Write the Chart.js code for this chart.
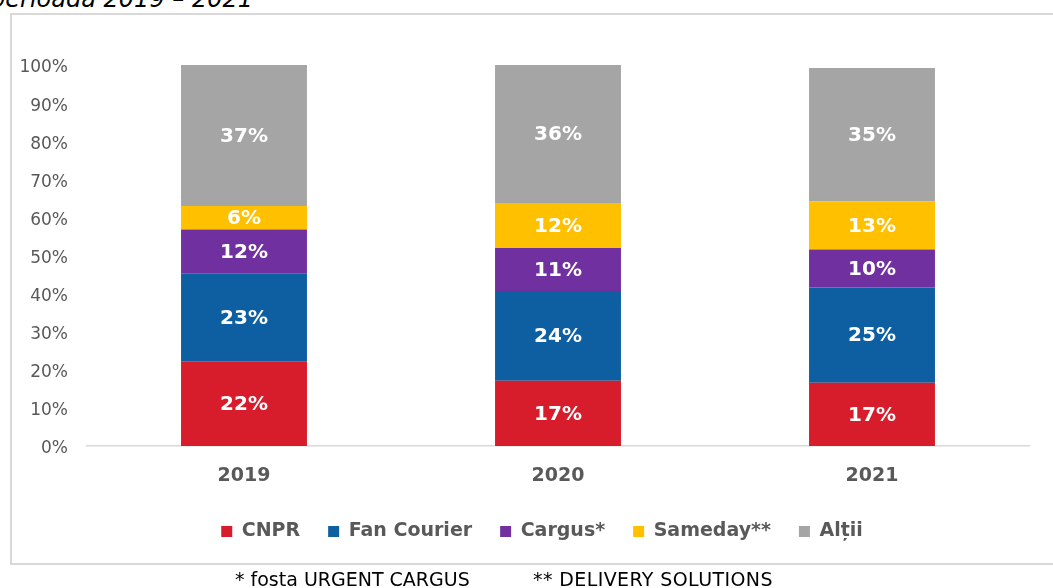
<!DOCTYPE html>
<html><head><meta charset="utf-8">
<script src="https://cdn.jsdelivr.net/npm/chart.js@4/dist/chart.umd.min.js"></script>
<style>
html,body{margin:0;padding:0;background:#fff;width:1053px;height:588px;overflow:hidden;position:relative;}
#frame{position:absolute;left:10px;top:13px;width:1060px;height:552px;border:2px solid #d9d9d9;box-sizing:border-box;}
#title{position:absolute;right:800px;top:-13px;font:italic 24px/24px "DejaVu Sans";white-space:nowrap;color:#000;}
.fn{position:absolute;top:570px;font:19px/19px "DejaVu Sans";white-space:nowrap;color:#000;}
#wrap{position:absolute;left:0;top:0;width:1053px;height:588px;}
</style></head><body>
<div id="title">perioada 2019 – 2021</div>
<div id="frame"></div>
<div id="wrap"><canvas id="c" width="1053" height="588"></canvas></div>
<div class="fn" style="left:235px">* fosta URGENT CARGUS</div>
<div class="fn" style="left:533px;letter-spacing:0.4px">** DELIVERY SOLUTIONS</div>
<script>
const years = ['2019', '2020', '2021'];
const cnpr = [22.1, 17.1, 16.6];
const fanCourier = [23.1, 23.6, 25.0];
const cargus = [11.6, 11.3, 10.0];
const sameday = [6.2, 11.8, 12.6];
const altii = [37.0, 36.2, 35.0];
const seriesNames = ['CNPR', 'Fan Courier', 'Cargus*', 'Sameday**', 'Alții'];
const seriesColors = ['#D71C2B', '#0E5FA1', '#7030A0', '#FFC000', '#A5A5A5'];
const yMin = 0, yMax = 100, yStep = 10;

const seriesData = [cnpr, fanCourier, cargus, sameday, altii];

const valueLabels = {
  id: 'valueLabels',
  afterDatasetsDraw(chart) {
    const ctx = chart.ctx;
    ctx.save();
    ctx.font = 'bold 20px "DejaVu Sans"';
    ctx.fillStyle = '#ffffff';
    ctx.textAlign = 'center';
    ctx.textBaseline = 'middle';
    chart.data.datasets.forEach((ds, i) => {
      const meta = chart.getDatasetMeta(i);
      meta.data.forEach((el, j) => {
        const v = ds.data[j];
        ctx.fillText(Math.round(v) + '%', el.x, (el.y + el.base) / 2 + 1);
      });
    });
    ctx.restore();
  }
};

const legendShift = {
  id: 'legendShift',
  afterLayout(chart) {
    if (chart.legend) {
      chart.legend.left += 17;
      chart.legend.right += 17;
    }
  }
};

new Chart(document.getElementById('c'), {
  type: 'bar',
  data: {
    labels: years,
    datasets: seriesNames.map((name, i) => ({
      label: name,
      data: seriesData[i],
      backgroundColor: seriesColors[i],
      borderWidth: 0,
      categoryPercentage: 1,
      barPercentage: 0.401
    }))
  },
  options: {
    responsive: false,
    devicePixelRatio: 1,
    animation: false,
    events: [],
    layout: { padding: { left: 21, right: 24, top: 65, bottom: 37 } },
    plugins: {
      tooltip: { enabled: false },
      title: { display: false },
      legend: {
        position: 'bottom',
        labels: {
          boxWidth: 11,
          boxHeight: 11,
          padding: 28,
          color: '#595959',
          font: { family: 'DejaVu Sans', size: 19, weight: 'bold' }
        }
      }
    },
    scales: {
      x: {
        stacked: true,
        grid: { display: false, drawTicks: false },
        border: { display: true, color: '#d9d9d9', width: 1.5 },
        ticks: {
          color: '#595959',
          padding: 19,
          font: { family: 'DejaVu Sans', size: 19, weight: 'bold' }
        },
        afterFit: s => { s.height = 48; }
      },
      y: {
        stacked: true,
        min: yMin,
        max: yMax,
        grid: { display: false, drawTicks: false },
        border: { display: false },
        ticks: {
          stepSize: yStep,
          color: '#595959',
          padding: 19,
          labelOffset: 3,
          font: { family: 'DejaVu Sans', size: 17 },
          callback: v => v + '%'
        },
        afterFit: s => { s.width = 66; }
      }
    }
  },
  plugins: [valueLabels, legendShift]
});
</script>
</body></html>
